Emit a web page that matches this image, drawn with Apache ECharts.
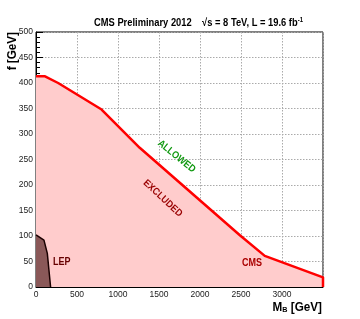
<!DOCTYPE html>
<html><head><meta charset="utf-8">
<script src="https://cdn.jsdelivr.net/npm/echarts@6/dist/echarts.min.js"></script>
<style>html,body{margin:0;padding:0;background:#fff}#c{width:360px;height:319px}</style>
</head><body><div id="c"></div>
<script>
// CMS exclusion boundary (M_B [GeV], f [GeV])
var cmsM = [0, 110, 270, 800, 1265, 2490, 2790, 3500, 3500];
var cmsF = [413, 413, 400, 348, 273, 101, 61, 19, 0];
// LEP exclusion region
var lepM = [0, 97, 138, 178];
var lepF = [102, 92, 66, 0];
// Axis ticks
var xTicks = [0, 500, 1000, 1500, 2000, 2500, 3000];
var yTicks = [0, 50, 100, 150, 200, 250, 300, 350, 400, 450, 500];
// Text annotations: [text, M, f, rotation(deg), color]
var notes = [
  ['ALLOWED', 1715, 256, -39, '#119911'],
  ['EXCLUDED', 1545, 174, -43, '#990000'],
  ['CMS', 2634, 47, 0, '#aa0000'],
  ['LEP', 313, 49, 0, '#660000']
];

function zip(a, b) { return a.map(function (v, i) { return [v, b[i]]; }); }
var FONT = '"Liberation Sans",Arial,sans-serif';

var chart = echarts.init(document.getElementById('c'), null, {renderer: 'canvas'});
var opt = {
  animation: false,
  backgroundColor: '#fff',
  grid: {left: 36, right: 37, top: 32, bottom: 32, show: true, borderColor: '#000', borderWidth: 1, backgroundColor: 'transparent'},
  xAxis: {
    type: 'value', min: 0, max: 3500, interval: 500,
    axisLine: {show: true, onZero: false, lineStyle: {color: '#000', width: 1}},
    axisTick: {show: true, inside: true, length: 7, lineStyle: {color: '#000'}},
    minorTick: {show: true, splitNumber: 5, length: 4, lineStyle: {color: '#000'}},
    axisLabel: {fontFamily: FONT, fontSize: 8.5, color: '#222', margin: 3,
      formatter: function (v) { return xTicks.indexOf(v) >= 0 ? String(v) : ''; }},
    splitLine: {show: true, lineStyle: {color: '#aaa', type: [1.5, 1.5], width: 1}}
  },
  yAxis: {
    type: 'value', min: 0, max: 500, interval: 50,
    axisLine: {show: true, onZero: false, lineStyle: {color: '#000', width: 1}},
    axisTick: {show: true, inside: true, length: 7, lineStyle: {color: '#000'}},
    minorTick: {show: true, splitNumber: 5, length: 4, lineStyle: {color: '#000'}},
    axisLabel: {fontFamily: FONT, fontSize: 8.5, color: '#222', margin: 3,
      formatter: function (v) { return yTicks.indexOf(v) >= 0 ? String(v) : ''; }},
    splitLine: {show: true, lineStyle: {color: '#aaa', type: [1.5, 1.5], width: 1}}
  },
  series: [
    {
      type: 'line', data: zip(cmsM, cmsF), symbol: 'none', z: 2,
      lineStyle: {color: '#ff0000', width: 2.5},
      areaStyle: {color: '#ffcccc', opacity: 1}
    },
    {
      type: 'line', data: zip(lepM, lepF), symbol: 'none', z: 3,
      lineStyle: {color: '#1a0000', width: 1.5},
      areaStyle: {color: '#8a5858', opacity: 1}
    }
  ]
};
chart.setOption(opt);

var g = notes.map(function (n) {
  var p = chart.convertToPixel({gridIndex: 0}, [n[1], n[2]]);
  return {
    type: 'text', x: p[0], y: p[1], rotation: n[3] * Math.PI / 180, z: 100, scaleX: 0.9,
    style: {text: n[0], fill: n[4], font: 'bold 10px ' + FONT, align: 'center', verticalAlign: 'middle'}
  };
});
g.push({
  type: 'text', x: 94, y: 23, z: 100, scaleX: 0.85,
  style: {text: 'CMS Preliminary 2012    √s = 8 TeV, L = 19.6 fb{sup|-1}', fill: '#000',
    font: 'bold 11px ' + FONT, verticalAlign: 'middle',
    rich: {sup: {font: 'bold 7px ' + FONT, verticalAlign: 'top', padding: [0, 0, 6, 0]}}}
});
g.push({
  type: 'text', x: 322, y: 307, z: 100, scaleX: 0.9,
  style: {text: 'M{sub|B} [GeV]', fill: '#000', font: 'bold 13px ' + FONT, align: 'right', verticalAlign: 'middle',
    rich: {sub: {font: 'bold 8px ' + FONT, verticalAlign: 'bottom', padding: [6, 0, 0, 0]}}}
});
g.push({
  type: 'text', x: 12, y: 32, rotation: Math.PI / 2, z: 100, scaleX: 0.9,
  style: {text: 'f [GeV]', fill: '#000', font: 'bold 13px ' + FONT, align: 'right', verticalAlign: 'middle'}
});
chart.setOption({graphic: g});
</script>
</body></html>
